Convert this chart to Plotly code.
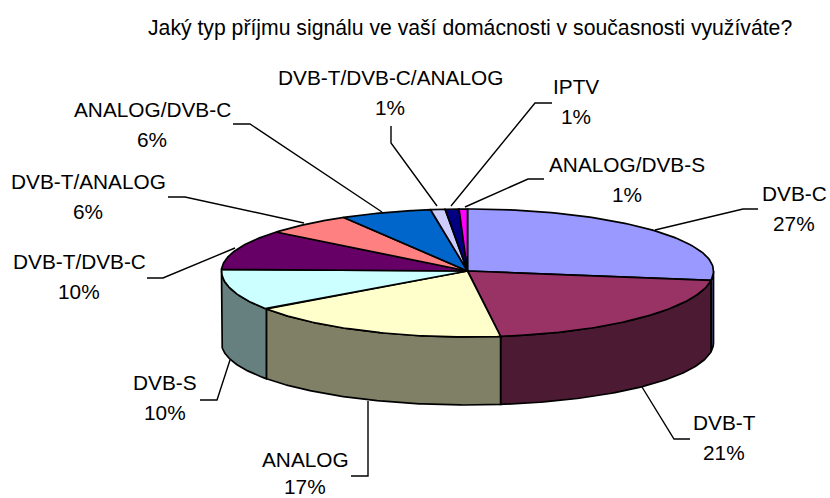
import numpy as np
import plotly.graph_objects as go

TITLE = "Jaký typ příjmu signálu ve vaší domácnosti v současnosti využíváte?"
categories = ["DVB-C", "DVB-T", "ANALOG", "DVB-S", "DVB-T/DVB-C", "DVB-T/ANALOG",
              "ANALOG/DVB-C", "DVB-T/DVB-C/ANALOG", "IPTV", "ANALOG/DVB-S"]
values = [27.3, 20.6, 17.4, 10.2, 10.4, 5.8, 6.0, 0.95, 0.9, 0.55]
top_colors = ["#9999FF", "#993366", "#FFFFCC", "#CCFFFF", "#660066",
              "#FF8080", "#0066CC", "#CCCCFF", "#000080", "#FF00FF"]
side_colors = ["#4D4D80", "#4D1A33", "#808066", "#668080", "#330033",
               "#804040", "#003366", "#666680", "#000040", "#800080"]

# pie projection (px on the page)
CX, CY, RX, RY_BACK, RY_FRONT = 467.5, 271, 246, 62, 66
BASE_CY, BASE_RY = 343, 62

# label layout: centre x, name y, percent y
label_x = [794, 724, 305, 165, 79, 88, 152, 390, 576, 627]
label_y1 = [193, 422, 459, 382, 261, 181, 109, 77, 86, 164]
label_y2 = [223, 452, 486, 412, 291, 211, 139, 107, 116, 194]
leader_x = [[758, 743, 655], [690, 674, 642], [351, 368, 368], [200, 217, 230], [147, 163, 235],
            [168, 185, 304], [233, 250, 382], [391, 391, 437], [552, 535, 451], [544, 528, 465]]
leader_y = [[209, 209, 230], [439, 439, 387], [476, 476, 401], [400, 400, 360], [278, 278, 248],
            [197, 197, 223], [124, 124, 212], [126, 143, 206], [103, 103, 206], [179, 179, 207]]


def top_xy(th):
    c = np.cos(th)
    return CX + RX * np.sin(th), CY - c * np.where(c > 0, RY_BACK, RY_FRONT)


def base_xy(th):
    return CX + RX * np.sin(th), BASE_CY - BASE_RY * np.cos(th)


fig = go.Figure()
edges = np.cumsum([0] + values) / sum(values) * 2 * np.pi

# side walls (front half only)
for i, name in enumerate(categories):
    a, b = max(edges[i], np.pi / 2), min(edges[i + 1], 3 * np.pi / 2)
    if b <= a:
        continue
    th = np.linspace(a, b, 80)
    x1, y1 = top_xy(th)
    x2, y2 = base_xy(th[::-1])
    fig.add_trace(go.Scatter(x=np.r_[x1, x2, x1[0]], y=np.r_[y1, y2, y1[0]], mode="lines", fill="toself",
                             fillcolor=side_colors[i], line=dict(color="black", width=1.7),
                             name=name, hoverinfo="skip", showlegend=False))

# top slices
for i, name in enumerate(categories):
    th = np.linspace(edges[i], edges[i + 1], 80)
    x1, y1 = top_xy(th)
    fig.add_trace(go.Scatter(x=np.r_[CX, x1, CX], y=np.r_[CY, y1, CY], mode="lines", fill="toself",
                             fillcolor=top_colors[i], line=dict(color="black", width=1.7),
                             name=name, hoverinfo="name", showlegend=False))

# leaders
for lx, ly, name in zip(leader_x, leader_y, categories):
    fig.add_trace(go.Scatter(x=lx, y=ly, mode="lines", line=dict(color="black", width=1.4),
                             hoverinfo="skip", showlegend=False, name=name + " leader"))

FONT = "Liberation Sans, Arial, sans-serif"
annotations = [dict(x=470, y=28, text=TITLE, font=dict(size=21.2, color="black", family=FONT))]
for name, v, x, y1, y2 in zip(categories, values, label_x, label_y1, label_y2):
    annotations.append(dict(x=x, y=y1, text=name, font=dict(size=20.8, color="black", family=FONT)))
    annotations.append(dict(x=x, y=y2, text=f"{v:.0f}%", font=dict(size=20.8, color="black", family=FONT)))
for a in annotations:
    a.update(xref="x", yref="y", showarrow=False, xanchor="center", yanchor="middle")

fig.update_layout(width=830, height=498, autosize=False, margin=dict(l=0, r=0, t=0, b=0),
                  paper_bgcolor="white", plot_bgcolor="white", showlegend=False,
                  annotations=annotations,
                  xaxis=dict(range=[0, 830], visible=False, fixedrange=True),
                  yaxis=dict(range=[498, 0], visible=False, fixedrange=True))
fig.write_html("out.html", config=dict(displayModeBar=False),
               post_script="document.body.style.margin='0';")
